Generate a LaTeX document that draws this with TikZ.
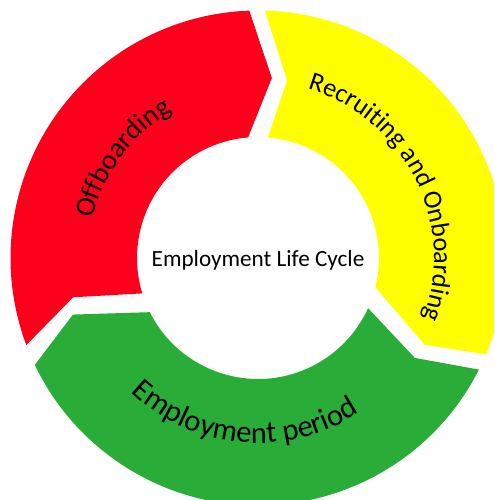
\documentclass[tikz,border=0pt]{standalone}
\usepackage{fontspec}
\setmainfont{Carlito}
\usetikzlibrary{decorations.text}
\definecolor{stageRed}{RGB}{252,0,28}
\definecolor{stageYellow}{RGB}{255,255,0}
\definecolor{stageGreen}{RGB}{42,172,56}
\begin{document}
\begin{tikzpicture}
        \tikzstyle{stageLabel}=[decorate, decoration={text along path, text align=center}]
    \useasboundingbox (-5.16,-4.84) rectangle (4.72,5.16);
    \clip (-5.16,-4.84) rectangle (4.72,5.16);

    % outer radius 4.95, inner radius 2.42
    \fill[stageRed] (200.6:4.95) arc[start angle=200.6, end angle=92, radius=4.95] -- (85.6:3.61) -- (94.7:2.42) arc[start angle=94.7, end angle=197, radius=2.42] -- (192:3.78) -- cycle;
    \fill[stageYellow] (88.4:4.95) arc[start angle=88.4, end angle=-22.9, radius=4.95] -- (-27.5:3.76) -- (-14:2.42) arc[start angle=-14, end angle=85.3, radius=2.42] -- (80.7:3.6) -- cycle;
    \fill[stageGreen] (-26.8:4.95) arc[start angle=-26.8, end angle=-154.4, radius=4.95] -- (-163:3.87) -- (-153.4:2.42) arc[start angle=-153.4, end angle=-24.5, radius=2.42] -- (-32.5:3.72) -- cycle;

    \path[stageLabel, decoration={text={|\fontsize{16}{19}\selectfont|Offboarding}}] (193.5:3.4) arc[start angle=193.5, end angle=93.5, radius=3.4];
    \path[stageLabel, decoration={text={|\fontsize{15}{18}\selectfont|Recruiting and Onboarding}}] (76.75:3.52) arc[start angle=76.75, end angle=-23.25, radius=3.52];
    \path[stageLabel, decoration={text={|\fontsize{17.5}{21}\selectfont|Employment period}}] (205:3.7) arc[start angle=205, end angle=325, radius=3.7];

    \node[font=\fontsize{13.2}{16}\selectfont] (title) at (0,-0.04) {Employment Life Cycle};
    \end{tikzpicture}
\end{document}
